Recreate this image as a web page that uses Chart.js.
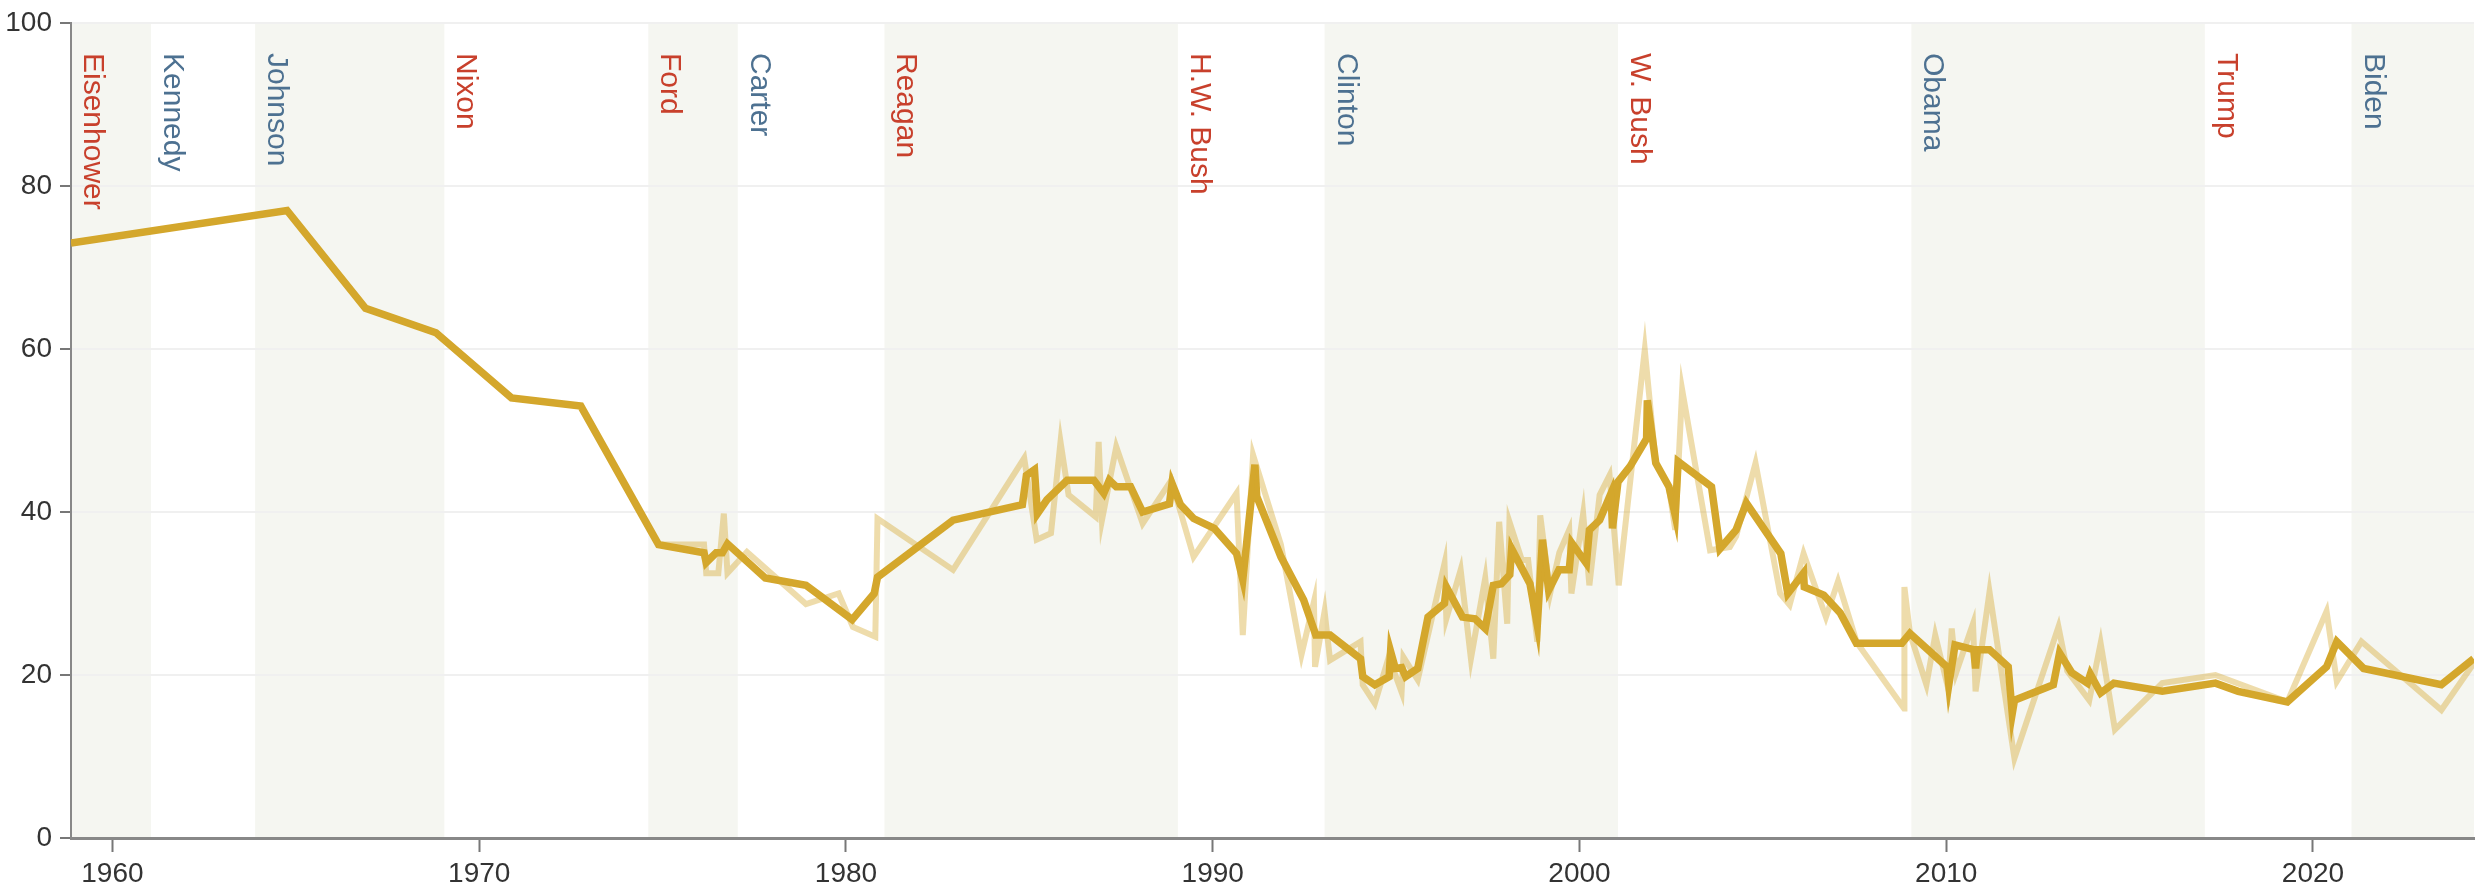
<!DOCTYPE html>
<html lang="en">
<head>
  <meta charset="UTF-8" />
  <title>Trust in government</title>
  <script src="https://cdn.jsdelivr.net/npm/chart.js"></script>
  <style>
    * { box-sizing: border-box; }
    html, body {
      margin: 0;
      background: #fff;
    }
    .chart-box {
      width: 2484px;
      height: 893px;
    }
  </style>
</head>
<body>
  <div class="chart-box"><canvas id="trustChart"></canvas></div>

  <script>
    // individual polls (light line)
    const pollYears = [1958.87, 1964.76, 1966.9, 1968.82, 1970.88, 1972.77, 1974.89, 1976.13, 1976.19, 1976.52,
      1976.67, 1976.77, 1977.3, 1978.91, 1979.8, 1980.19, 1980.8, 1980.86, 1982.92, 1984.86,
      1985.2, 1985.59, 1985.85, 1986.07, 1986.81, 1986.89, 1986.98, 1987.37, 1988.09, 1988.87,
      1989.48, 1990.65, 1990.82, 1991.1, 1991.86, 1992.42, 1992.76, 1992.79, 1993.05, 1993.2,
      1994.03, 1994.09, 1994.42, 1994.8, 1995.15, 1995.2, 1995.59, 1996.32, 1996.37, 1996.76,
      1997.04, 1997.43, 1997.65, 1997.81, 1998.03, 1998.09, 1998.43, 1998.6, 1998.85, 1998.93,
      1999.2, 1999.45, 1999.72, 1999.78, 2000.1, 2000.27, 2000.55, 2000.82, 2001.07, 2001.78,
      2002.08, 2002.44, 2002.61, 2002.8, 2003.56, 2004.1, 2004.27, 2004.8, 2005.47, 2005.73,
      2006.11, 2006.72, 2007.05, 2007.56, 2008.85, 2008.86, 2009.01, 2009.46, 2009.7, 2010.05,
      2010.15, 2010.27, 2010.73, 2010.8, 2011.18, 2011.86, 2013.06, 2013.3, 2013.9, 2014.21,
      2014.6, 2015.89, 2017.34, 2019.3, 2020.37, 2020.65, 2021.32, 2023.5, 2024.38];
    const pollValues = [73, 77, 65, 62, 54, 53, 36, 36, 32.5, 32.5,
      39.8, 32.5, 35.1, 28.7, 30, 25.9, 24.7, 39.2, 32.9, 46.6,
      36.6, 37.4, 48.6, 42.1, 39.4, 48.6, 39, 48, 38.6, 43.9,
      34.5, 42.3, 24.9, 47, 36, 22.5, 29, 21, 27.8, 21.8,
      24.1, 18.8, 16.5, 22.2, 17.9, 22.2, 19.4, 33.7, 26.9, 32.9,
      22, 31.9, 22, 38.8, 26.3, 38.8, 34.1, 34.1, 24.1, 39.6,
      30, 35, 37.8, 30, 39.8, 31, 42.1, 44.5, 31, 59.9,
      46, 43, 37.8, 55, 35.3, 35.7, 37, 46, 30, 28.6,
      34.9, 27.1, 31.5, 24, 15.9, 30.8, 25.1, 18.8, 24.9, 18.4,
      25.7, 20.3, 26.3, 18, 30.2, 9.8, 25.9, 20.5, 16.9, 23.9,
      13.3, 19, 20, 16.7, 27.8, 19.2, 24.1, 15.7, 21.4];

    // moving average (thick line)
    const trendYears = [1958.87, 1964.76, 1966.9, 1968.82, 1970.88, 1972.77, 1974.89, 1976.13, 1976.19, 1976.46,
      1976.63, 1976.77, 1977.8, 1978.91, 1980.17, 1980.77, 1980.86, 1982.92, 1984.81, 1984.92,
      1985.14, 1985.22, 1985.48, 1986.03, 1986.76, 1987.03, 1987.18, 1987.37, 1987.76, 1988.09,
      1988.82, 1988.89, 1989.12, 1989.48, 1990.04, 1990.65, 1990.82, 1991.15, 1991.2, 1991.86,
      1992.48, 1992.81, 1993.2, 1994.03, 1994.09, 1994.42, 1994.81, 1994.85, 1994.98, 1995.15,
      1995.26, 1995.59, 1995.87, 1996.32, 1996.37, 1996.81, 1997.15, 1997.43, 1997.65, 1997.87,
      1998.1, 1998.15, 1998.65, 1998.85, 1998.99, 1999.16, 1999.44, 1999.72, 1999.79, 2000.19,
      2000.27, 2000.55, 2000.86, 2000.9, 2001.05, 2001.38, 2001.83, 2001.85, 2002.08, 2002.44,
      2002.61, 2002.69, 2003.6, 2003.83, 2004.27, 2004.55, 2005.49, 2005.68, 2006.11, 2006.13,
      2006.66, 2007.11, 2007.55, 2008.79, 2009.01, 2010.02, 2010.07, 2010.24, 2010.75, 2010.8,
      2010.85, 2011.18, 2011.69, 2011.8, 2011.86, 2012.92, 2013.09, 2013.42, 2013.85, 2013.93,
      2014.21, 2014.57, 2015.89, 2017.34, 2017.96, 2019.3, 2020.37, 2020.65, 2021.38, 2023.5,
      2024.38];
    const trendValues = [73, 77, 65, 62, 54, 53, 36, 35, 33.8, 35,
      35, 36.1, 31.9, 31, 26.8, 30, 32, 39, 40.9, 44.5,
      45.2, 39.8, 41.5, 43.9, 43.9, 42.3, 43.9, 43.1, 43.1, 40,
      41, 43.5, 40.9, 39.2, 38, 34.9, 31.7, 45.8, 41.9, 34.5,
      29.2, 24.9, 24.9, 22, 19.8, 18.8, 19.8, 22.9, 20.8, 20.9,
      19.8, 20.8, 27.1, 28.8, 30.8, 27.1, 26.9, 25.7, 31, 31.2,
      32.3, 35.5, 31.2, 26.1, 36.6, 30.4, 32.9, 32.9, 36.2, 33.7,
      37.8, 39, 42.3, 38, 43.7, 45.6, 49, 53.7, 46, 43.1,
      39.6, 46.2, 43.1, 35.5, 37.8, 41.1, 34.9, 30, 32.5, 30.8,
      29.8, 27.6, 23.9, 23.9, 25.1, 21, 18.8, 23.7, 23.1, 20.8,
      23.1, 23.1, 21, 15.3, 16.9, 18.8, 22.7, 20.3, 19, 20.1,
      17.8, 19, 18, 19, 18, 16.7, 21, 24.1, 20.8, 18.8,
      22];

    const presidents = ['Eisenhower', 'Kennedy', 'Johnson', 'Nixon', 'Ford', 'Carter', 'Reagan',
      'H.W. Bush', 'Clinton', 'W. Bush', 'Obama', 'Trump', 'Biden'];
    const termStarts = [1953.05, 1961.05, 1963.89, 1969.05, 1974.61, 1977.05, 1981.05,
      1989.05, 1993.05, 2001.05, 2009.05, 2017.05, 2021.05];
    const parties = ['R', 'D', 'D', 'R', 'R', 'D', 'R', 'R', 'D', 'R', 'D', 'R', 'D'];

    const xTicks = [1960, 1970, 1980, 1990, 2000, 2010, 2020];
    const yTicks = [0, 20, 40, 60, 80, 100];

    const GOLD = '#d4a72c';
    const partyColor = { R: '#c8402c', D: '#4d7191' };

    Chart.defaults.font.family = '"Liberation Sans", Arial, sans-serif';

    const toPoints = (xs, ys) => xs.map((x, i) => ({ x: x, y: ys[i] }));

    // shaded terms + rotated president names
    const termsPlugin = {
      id: 'terms',
      beforeDraw(chart) {
        const { ctx, chartArea, scales } = chart;
        const xs = scales.x;
        ctx.save();
        presidents.forEach((name, i) => {
          const x0 = Math.max(xs.getPixelForValue(termStarts[i]), chartArea.left);
          const x1 = i + 1 < termStarts.length
            ? xs.getPixelForValue(termStarts[i + 1]) : chartArea.right;
          if (i % 2 === 0) {
            ctx.fillStyle = '#f5f6f1';
            ctx.fillRect(x0, chartArea.top, x1 - x0, chartArea.bottom - chartArea.top);
          }
        });
        ctx.restore();
      },
      beforeDatasetsDraw(chart) {
        const { ctx, chartArea, scales } = chart;
        const xs = scales.x;
        ctx.save();
        ctx.font = '30px "Liberation Sans", Arial, sans-serif';
        ctx.textAlign = 'left';
        ctx.textBaseline = 'alphabetic';
        presidents.forEach((name, i) => {
          const x0 = Math.max(xs.getPixelForValue(termStarts[i]), chartArea.left);
          ctx.save();
          ctx.translate(x0 + 13, chartArea.top + 30);
          ctx.rotate(Math.PI / 2);
          ctx.fillStyle = partyColor[parties[i]];
          ctx.fillText(name, 0, 0);
          ctx.restore();
        });
        ctx.restore();
      }
    };

    new Chart(document.getElementById('trustChart'), {
      type: 'line',
      data: {
        datasets: [
          {
            label: 'Individual polls',
            data: toPoints(pollYears, pollValues),
            borderColor: 'rgba(212,167,44,0.4)',
            borderWidth: 6,
            pointRadius: 0,
            tension: 0
          },
          {
            label: 'Moving average',
            data: toPoints(trendYears, trendValues),
            borderColor: GOLD,
            borderWidth: 7.5,
            pointRadius: 0,
            tension: 0
          }
        ]
      },
      options: {
        responsive: true,
        maintainAspectRatio: false,
        animation: false,
        layout: { padding: { top: 23, right: 10, left: 0, bottom: 0 } },
        plugins: {
          legend: { display: false },
          title: { display: false },
          tooltip: { enabled: false }
        },
        scales: {
          x: {
            type: 'linear',
            min: 1958.87,
            max: 2024.39,
            afterBuildTicks: s => { s.ticks = xTicks.map(v => ({ value: v })); },
            afterFit: s => { s.height = 55; s.paddingLeft = 0; s.paddingRight = 0; },
            grid: {
              drawOnChartArea: false,
              drawTicks: true,
              tickLength: 14,
              tickColor: '#777',
              tickWidth: 2
            },
            border: { color: '#888', width: 3 },
            ticks: {
              color: '#333',
              padding: 5,
              maxRotation: 0,
              font: { size: 28 },
              callback: v => String(v)
            }
          },
          y: {
            min: 0,
            max: 100,
            afterBuildTicks: s => { s.ticks = yTicks.map(v => ({ value: v })); },
            afterFit: s => { s.width = 71; s.paddingTop = 0; s.paddingBottom = 0; },
            grid: {
              color: '#f0f0f0',
              lineWidth: 2,
              drawTicks: true,
              tickLength: 11,
              tickColor: '#777',
              tickWidth: 2
            },
            border: { color: '#888', width: 2 },
            ticks: {
              color: '#333',
              padding: 8,
              font: { size: 28 },
              callback: v => String(v)
            }
          }
        }
      },
      plugins: [termsPlugin]
    });
  </script>
</body>
</html>
